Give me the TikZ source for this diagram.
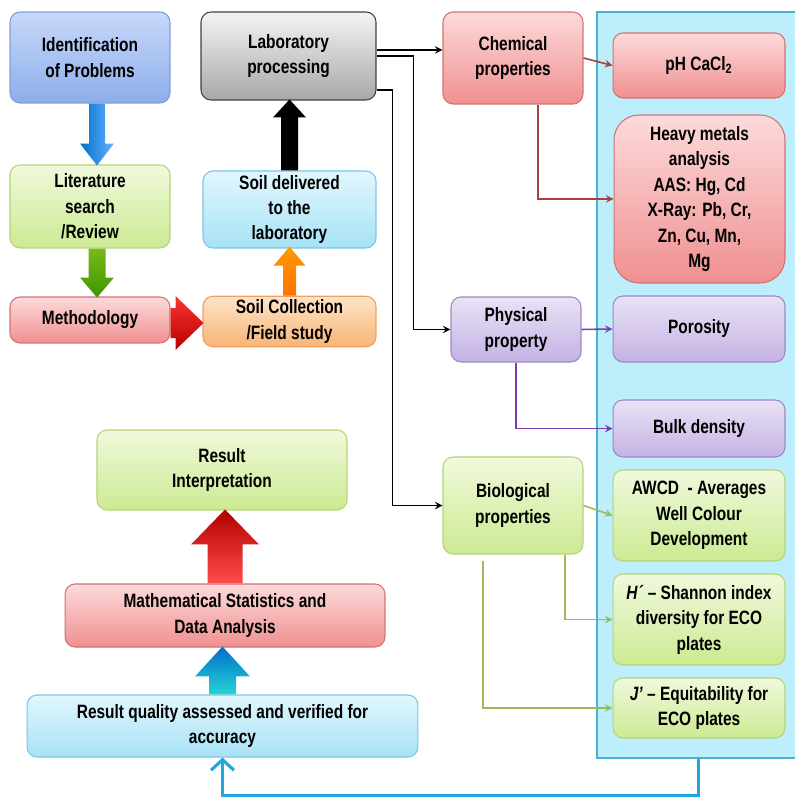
\documentclass[tikz,border=0pt]{standalone}
\usepackage{fontspec}
\setmainfont{Liberation Sans}[FakeStretch=0.8]
\usetikzlibrary{positioning}
\usetikzlibrary{arrows.meta}

\definecolor{blueTop}{HTML}{C8D8FA}
\definecolor{blueBot}{HTML}{8CAEEA}
\definecolor{blueLine}{HTML}{7F9FD8}
\definecolor{grayTop}{HTML}{F4F4F4}
\definecolor{grayBot}{HTML}{A8A8A8}
\definecolor{greenTop}{HTML}{F0F9DC}
\definecolor{greenBot}{HTML}{CCEA92}
\definecolor{greenLine}{HTML}{B4D478}
\definecolor{cyanTop}{HTML}{E2F7FD}
\definecolor{cyanBot}{HTML}{A6E2F6}
\definecolor{cyanLine}{HTML}{78C6E4}
\definecolor{pinkTop}{HTML}{FCDADA}
\definecolor{pinkBot}{HTML}{F09090}
\definecolor{pinkLine}{HTML}{D47272}
\definecolor{orangeTop}{HTML}{FEE4C8}
\definecolor{orangeBot}{HTML}{F8B476}
\definecolor{orangeLine}{HTML}{EDA05E}
\definecolor{purpleTop}{HTML}{EAE2F6}
\definecolor{purpleBot}{HTML}{C4B2E4}
\definecolor{purpleLine}{HTML}{9C88C8}
\definecolor{panelFill}{HTML}{BDEEFC}
\definecolor{panelLine}{HTML}{4CB0D0}
\definecolor{chemLink}{HTML}{A84040}
\definecolor{physLink}{HTML}{7A3CB0}
\definecolor{bioLink}{HTML}{9BBB59}
\definecolor{backLink}{HTML}{1EA8E0}

\begin{document}
\begin{tikzpicture}[x=0.02cm,y=-0.02cm,>=stealth,
  box/.style={rectangle,rounded corners=0.2cm,draw,align=center,inner sep=2pt,line width=0.6pt,font=\fontsize{11}{14.5}\selectfont\bfseries},
  blue node/.style={box,draw=blueLine,top color=blueTop,bottom color=blueBot},
  gray node/.style={box,draw=black!75,top color=grayTop,bottom color=grayBot},
  green node/.style={box,draw=greenLine,top color=greenTop,bottom color=greenBot},
  cyan node/.style={box,draw=cyanLine,top color=cyanTop,bottom color=cyanBot},
  pink node/.style={box,draw=pinkLine,top color=pinkTop,bottom color=pinkBot},
  orange node/.style={box,draw=orangeLine,top color=orangeTop,bottom color=orangeBot},
  purple node/.style={box,draw=purpleLine,top color=purpleTop,bottom color=purpleBot},
  link/.style={->,line width=0.9pt}]

		\useasboundingbox (0,0) rectangle (794,800);
		
		\node[rectangle,draw=panelLine,fill=panelFill,line width=0.8pt,minimum width=4.06cm,minimum height=14.92cm] at (698.5,385) (panel) {};
		
		% left column
		\node[blue node,minimum width=3.2cm,minimum height=1.82cm] at (90,57.5) (idp) {Identification\\of Problems};
		\node[green node,minimum width=3.2cm,minimum height=1.66cm] at (90,206.5) (lit) {Literature\\search\\/Review};
		\node[pink node,minimum width=3.2cm,minimum height=0.92cm] at (90,320) (meth) {Methodology};
		\node[gray node,minimum width=3.5cm,minimum height=1.76cm] at (288.5,56) (lab) {Laboratory\\processing};
		\node[cyan node,minimum width=3.46cm,minimum height=1.54cm] at (289.5,209.5) (sdl) {Soil delivered\\to the\\laboratory};
		\node[orange node,minimum width=3.46cm,minimum height=0.98cm] at (289.5,321.5) (scol) {Soil Collection\\/Field study};
		
		% properties
		\node[pink node,minimum width=2.8cm,minimum height=1.84cm] at (513,58) (chem) {Chemical\\properties};
		\node[purple node,minimum width=2.6cm,minimum height=1.3cm] at (516,329.5) (phys) {Physical\\property};
		\node[green node,minimum width=2.8cm,minimum height=1.94cm] at (513,505.5) (bio) {Biological\\properties};
		
		\node[pink node,minimum width=3.44cm,minimum height=1.3cm] at (699,65.5) (ph) {pH CaCl\textsubscript{2}};
		\node[pink node,rounded corners=0.5cm,minimum width=3.42cm,minimum height=3.36cm] at (699.5,199) (hm) {Heavy metals\\analysis\\AAS: Hg, Cd\\X-Ray: Pb, Cr,\\Zn, Cu, Mn,\\Mg};
		\node[purple node,minimum width=3.44cm,minimum height=1.32cm] at (699,329) (por) {Porosity};
		\node[purple node,minimum width=3.44cm,minimum height=1.14cm] at (699,428.5) (bulk) {Bulk density};
		\node[green node,minimum width=3.44cm,minimum height=1.82cm] at (699,515.5) (awcd) {AWCD\ \ - Averages\\Well Colour\\Development};
		\node[green node,minimum width=3.44cm,minimum height=1.82cm] at (699,619.5) (shan) {\textit{H´} -- Shannon index\\diversity for ECO\\plates};
		\node[green node,minimum width=3.44cm,minimum height=1.2cm] at (699,708) (equit) {\textit{J’} -- Equitability for\\ECO plates};
		
		% results
		\node[green node,minimum width=5cm,minimum height=1.6cm] at (222,470) (resint) {Result\\Interpretation};
		\node[pink node,minimum width=6.4cm,minimum height=1.26cm] at (225,615.5) (math) {Mathematical Statistics and\\Data Analysis};
		\node[cyan node,minimum width=7.82cm,minimum height=1.24cm] at (222.5,726) (rq) {Result quality assessed and verified for\\accuracy};
		
		% block arrows
		\shade[left color=blue!45!cyan!80!black,right color=blue!50!cyan!60] ([xshift=0.14cm]idp.south) ++(-8,0) -- ++(0,40) -- ++(-9,0) -- ++(17,22) -- ++(17,-22) -- ++(-9,0) -- ++(0,-40) -- cycle;
		\shade[top color=green!50!black!60!yellow!90,bottom color=green!45!black!75!yellow] ([xshift=0.14cm]lit.south) ++(-8.5,0) -- ++(0,29) -- ++(-8.5,0) -- ++(17,20) -- ++(17,-20) -- ++(-8.5,0) -- ++(0,-29) -- cycle;
		\shade[top color=red!80,bottom color=red!70!black] ([yshift=-0.06cm]meth.east) ++(0,-15) -- ++(5,0) -- ++(0,-12) -- ++(28,27) -- ++(-28,27) -- ++(0,-12) -- ++(-5,0) -- cycle;
		\shade[top color=orange!80!yellow,bottom color=orange!90!red] (scol.north) ++(-6.5,0) -- ++(0,-30) -- ++(-9.5,0) -- ++(16,-19) -- ++(16,19) -- ++(-9.5,0) -- ++(0,30) -- cycle;
		\fill[black] (sdl.north) ++(-8.5,0) -- ++(0,-53) -- ++(-8,0) -- ++(16.5,-18) -- ++(16.5,18) -- ++(-8,0) -- ++(0,53) -- cycle;
		\shade[top color=red!70!black,bottom color=red!70] (math.north) ++(-17.5,0) -- ++(0,-39) -- ++(-16.5,0) -- ++(34,-35) -- ++(34,35) -- ++(-16.5,0) -- ++(0,39) -- cycle;
		\shade[top color=cyan!55!blue!80!black,bottom color=cyan!80!black!85] (rq.north) ++(-13.5,0) -- ++(0,-18) -- ++(-14,0) -- ++(27.5,-30) -- ++(27.5,30) -- ++(-14,0) -- ++(0,18) -- cycle;
		
		% links
		\draw[link] ([yshift=0.12cm]lab.east) -- ([yshift=0.12cm]lab.east -| chem.west);
		\draw[link] (lab.east) -- ++(37,0) |- (phys.west);
		\draw[link] ([yshift=-0.68cm]lab.east) -- ++(16,0) |- (bio.west);
		
		\draw[link,chemLink] (chem.east) -- (ph.west);
		\draw[link,chemLink] ([xshift=0.5cm]chem.south) |- (hm.west);
		\draw[link,physLink] (phys.east) -- (por.west);
		\draw[link,physLink] (phys.south) |- (bulk.west);
		\draw[link,bioLink] (bio.east) -- (awcd.west);
		\draw[link,bioLink] ([xshift=1.04cm]bio.south) |- (shan.west);
		\draw[link,bioLink] ([xshift=-0.6cm,yshift=-0.12cm]bio.south) |- (equit.west);
		
		\draw[backLink,line width=1.8pt,-{Straight Barb[length=6pt,width=13pt]}] (panel.south) -- ++(0,37) -| (rq.south);
		
\end{tikzpicture}
\end{document}
